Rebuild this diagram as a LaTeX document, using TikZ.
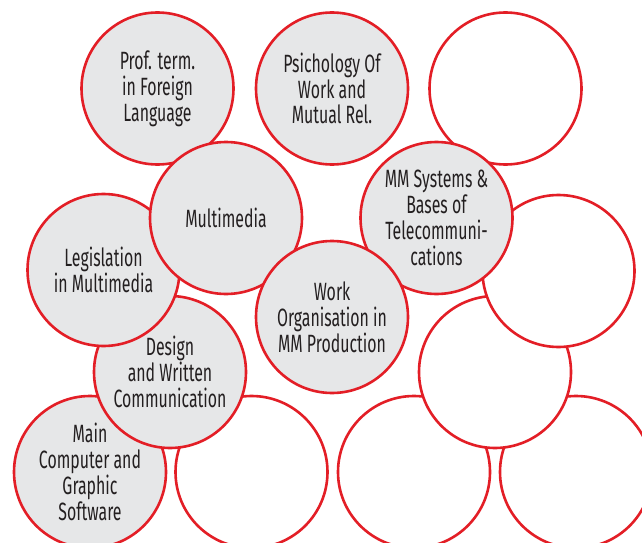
\documentclass[tikz,border=0pt]{standalone}
\usepackage{fontspec}
\setmainfont{Fira Sans}[FakeStretch=0.635]
\definecolor{ringred}{HTML}{E31E26}
\definecolor{discgray}{HTML}{E6E7E8}
\definecolor{inkdark}{HTML}{231F20}
\begin{document}
\begin{tikzpicture}[x=1pt,y=-1pt,
  disc/.style={circle, draw=ringred, line width=2.6pt, minimum size=152pt,
    inner sep=0pt, align=center, text=inkdark,
    font=\fontsize{25}{25.8}\selectfont},
  filled/.style={disc, fill=discgray},
  blank/.style={disc, fill=white}]
\useasboundingbox (0,0) rectangle (642,543);
\clip (0,0) rectangle (642,543);
% bottom row
\node[filled] (main) at (90,472) {Main\\Computer and\\Graphic\\Software};
\node[blank]  (bottwo) at (251.5,472) {};
\node[blank]  (botthree) at (414,472) {};
\node[blank]  (botfour) at (576,472) {};
% second row from the bottom
\node[filled] (design) at (170,372) {Design\\and Written\\Communication};
\node[blank]  (midright) at (495,372) {};
% middle row
\node[filled] (legis) at (103.5,270) {Legislation\\in Multimedia};
\node[blank]  (rightmid) at (558.5,271) {};
% top row
\node[filled] (prof) at (157.5,88.5) {Prof. term.\\in Foreign\\Language};
\node[filled] (psych) at (332,88.5) {Psichology Of\\Work and\\Mutual Rel.};
\node[blank]  (topright) at (505.5,88.5) {};
% upper middle row
\node[filled] (mmedia) at (226,218) {Multimedia};
\node[filled] (mmsys) at (436.5,218) {MM Systems \&\\Bases of\\Telecommuni-\\cations};
% centre
\node[filled] (work) at (332,317) {Work\\Organisation in\\MM Production};
\end{tikzpicture}
\end{document}
